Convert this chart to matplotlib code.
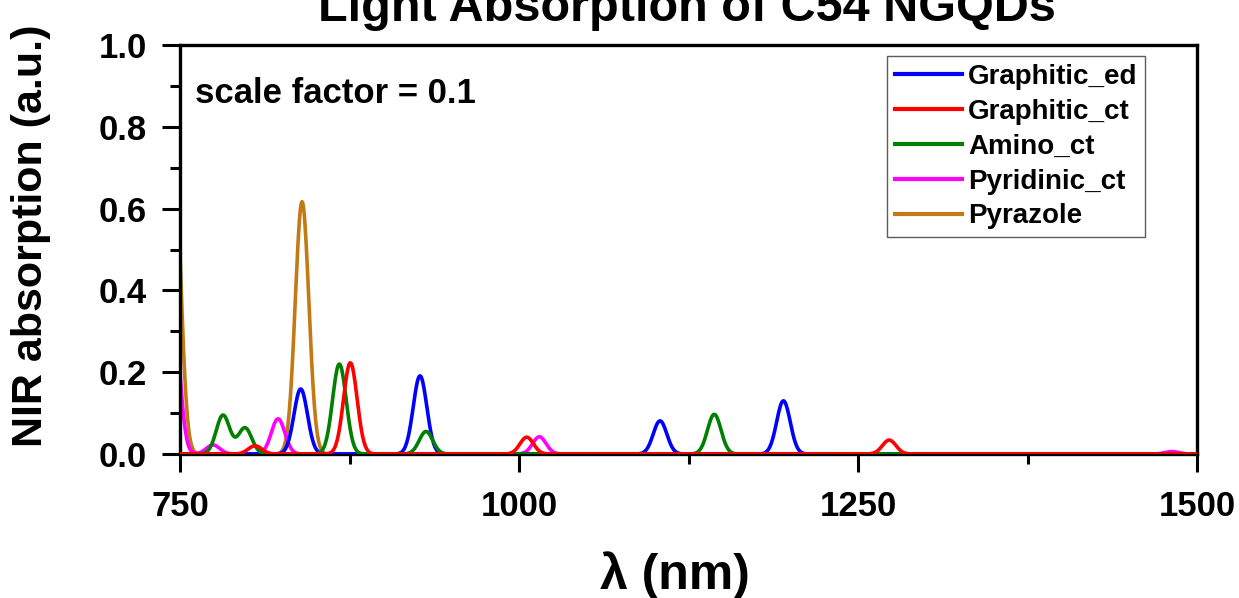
import numpy as np
import matplotlib
matplotlib.use("Agg")
import matplotlib.pyplot as plt
from matplotlib.ticker import MultipleLocator, FormatStrFormatter

# Excitation energies (nm) and scaled oscillator strengths for each N-doped configuration
series_names = ["Graphitic_ed", "Graphitic_ct", "Amino_ct", "Pyridinic_ct", "Pyrazole"]
series_colors = ["#0000ff", "#ff0000", "#008000", "#ff00ff", "#c27a14"]

graphitic_ed_nm = [839.0, 927.0, 1104.0, 1195.0]
graphitic_ed_f = [0.159, 0.191, 0.081, 0.130]

graphitic_ct_nm = [805.3, 875.6, 1005.7, 1273.0]
graphitic_ct_f = [0.020, 0.223, 0.041, 0.034]

amino_ct_nm = [781.7, 797.9, 867.5, 931.4, 1144.0]
amino_ct_f = [0.095, 0.064, 0.220, 0.055, 0.097]

pyridinic_ct_nm = [744.0, 774.3, 822.3, 1015.0, 1481.5]
pyridinic_ct_f = [0.41, 0.022, 0.086, 0.042, 0.006]

pyrazole_nm = [745.0, 840.0]
pyrazole_f = [0.81, 0.617]

peak_sets = [
    (graphitic_ed_nm, graphitic_ed_f),
    (graphitic_ct_nm, graphitic_ct_f),
    (amino_ct_nm, amino_ct_f),
    (pyridinic_ct_nm, pyridinic_ct_f),
    (pyrazole_nm, pyrazole_f),
]

SIGMA_NM = 5.0
wl = np.arange(750.0, 1500.01, 0.5)


def broaden(centers, heights, grid, sigma):
    """Gaussian-broadened stick spectrum."""
    c = np.asarray(centers)[:, None]
    h = np.asarray(heights)[:, None]
    return (h * np.exp(-((grid[None, :] - c) ** 2) / (2 * sigma ** 2))).sum(axis=0)


plt.rcParams["font.family"] = ["Liberation Sans", "DejaVu Sans"]
plt.rcParams["font.weight"] = "bold"

fig = plt.figure(figsize=(12.39, 5.98), dpi=100)
ax = fig.add_axes([0.1453, 0.2408, 0.8208, 0.6839])

zorders = [3, 5, 4, 2, 1]
for (nm, f), name, color, z in zip(peak_sets, series_names, series_colors, zorders):
    spec = broaden(nm, f, wl, SIGMA_NM)
    ax.plot(wl, spec, color=color, lw=2.6, label=name, zorder=z,
            solid_joinstyle="round")

ax.set_xlim(750, 1500)
ax.set_ylim(0, 1.0)
ax.xaxis.set_major_locator(MultipleLocator(250))
ax.xaxis.set_minor_locator(MultipleLocator(125))
ax.yaxis.set_major_locator(MultipleLocator(0.2))
ax.yaxis.set_minor_locator(MultipleLocator(0.1))
ax.yaxis.set_major_formatter(FormatStrFormatter("%.1f"))

for s in ax.spines.values():
    s.set_linewidth(2.4)
ax.tick_params(axis="both", which="major", direction="out", length=13, width=2.2,
               labelsize=25, top=False, right=False)
ax.tick_params(axis="x", which="major", pad=13)
ax.tick_params(axis="y", which="major", pad=11)
ax.tick_params(axis="both", which="minor", direction="out", length=7, width=2.2,
               top=False, right=False)
for lab in ax.get_xticklabels() + ax.get_yticklabels():
    lab.set_fontweight("bold")

ax.text(0.0147, 0.858, "scale factor = 0.1", transform=ax.transAxes,
        fontsize=25, fontweight="bold", ha="left", va="baseline")

leg = ax.legend(loc="upper right", bbox_to_anchor=(0.949, 0.973), borderaxespad=0,
                handlelength=2.4, handletextpad=0.22,
                labelspacing=0.32, borderpad=0.28, fancybox=False, frameon=True,
                prop={"weight": "bold", "size": 20})
leg.get_frame().set_edgecolor("#333333")
leg.get_frame().set_linewidth(1.0)
for lh in leg.get_lines():
    lh.set_linewidth(3)

fig.text(0.5545, 1 - 21 / 598, "Light Absorption of C54 NGQDs", ha="center",
         va="baseline", fontsize=35, fontweight="bold")
fig.text(0.025, 0.605, "NIR absorption (a.u.)", rotation=90, ha="center",
         va="center", fontsize=31, fontweight="bold")
fig.text(0.545, 0.038, "λ (nm)", ha="center", va="center", fontsize=36,
         fontweight="bold")

fig.savefig("out.png", dpi=100)
